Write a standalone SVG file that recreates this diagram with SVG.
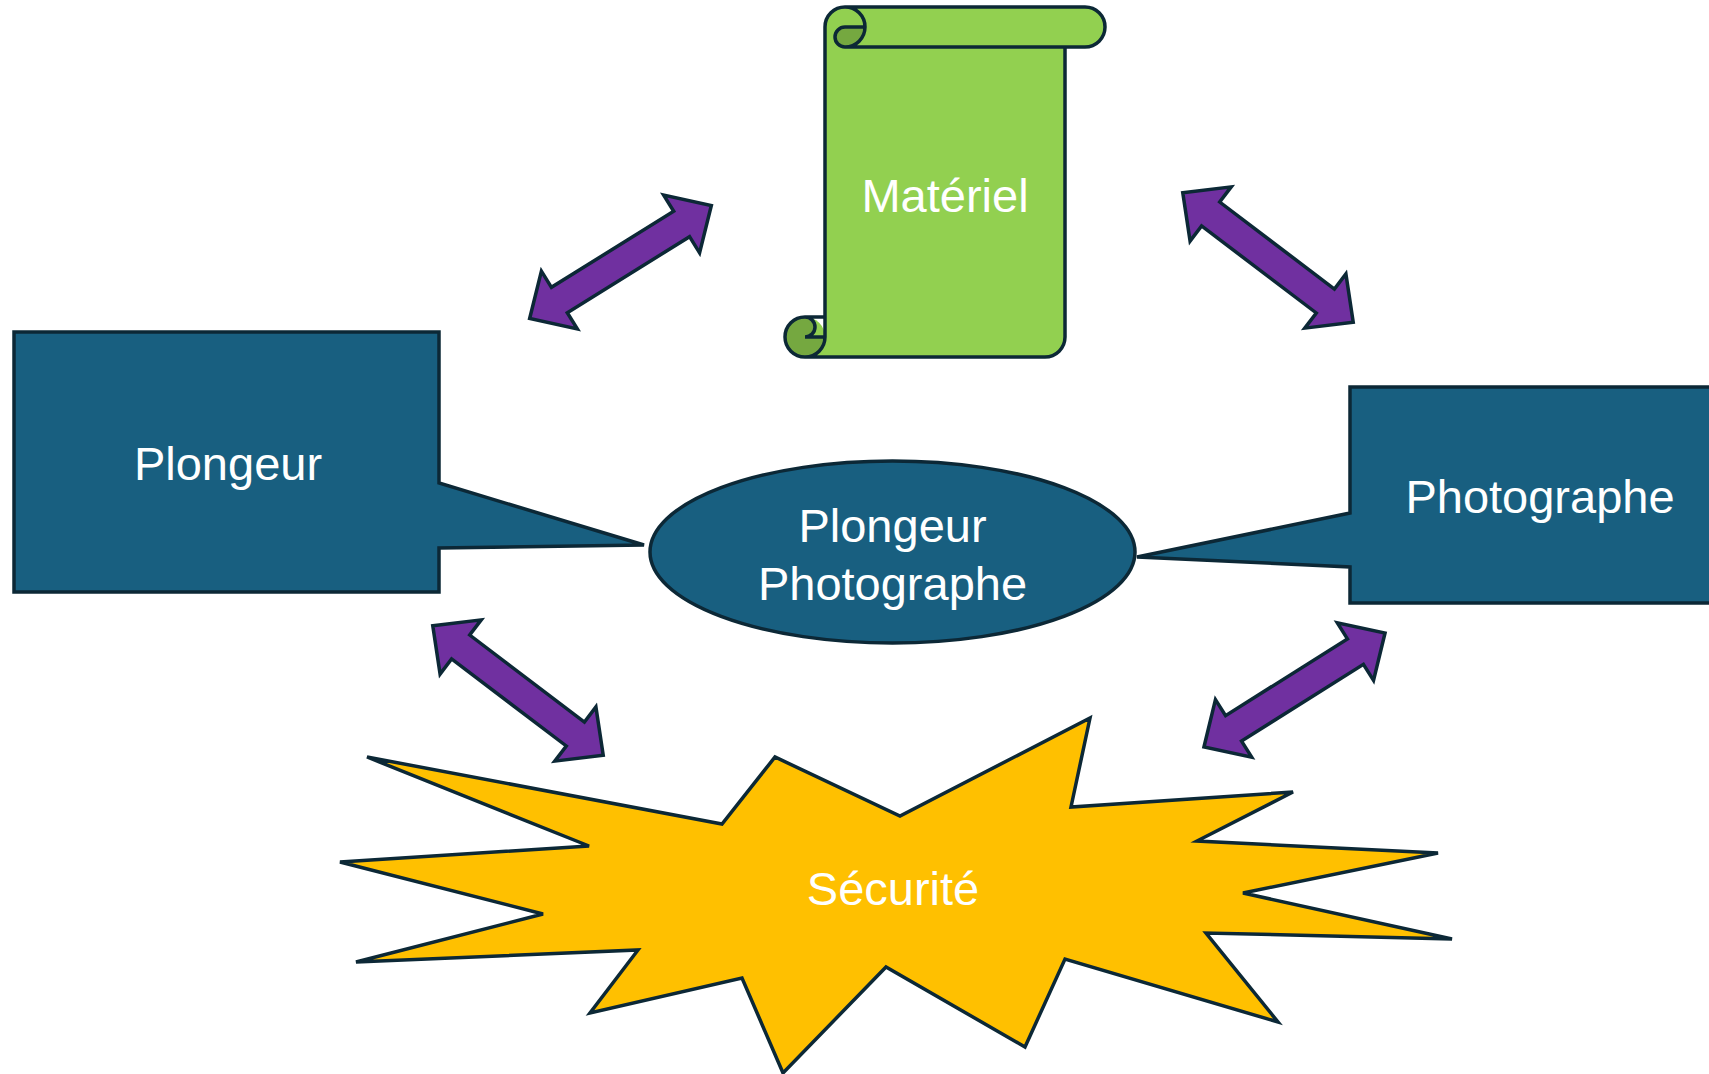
<svg xmlns="http://www.w3.org/2000/svg" xmlns:xlink="http://www.w3.org/1999/xlink" width="1709" height="1074" viewBox="0 0 1709 1074">
<style>
.ln{stroke:#0C2836;stroke-width:3.5;stroke-linejoin:miter}
.blue{fill:#185F80}
.lbl{font-family:"Liberation Sans",Arial,sans-serif;font-size:47px;fill:#FFFFFF;text-anchor:middle}
.arrow{fill:#7030A0;stroke:#0C2836;stroke-width:3.5;stroke-linejoin:miter}
</style>
<defs>
<path id="dbl" d="M-107,0 L-72,-34 L-72,-15 L72,-15 L72,-34 L107,0 L72,34 L72,15 L-72,15 L-72,34 Z"/>
</defs>
<rect width="1709" height="1074" fill="#FFFFFF"/>
<g id="connectors">
<use xlink:href="#dbl" class="arrow" transform="translate(620.5,262) rotate(-31.9)"/>
<use xlink:href="#dbl" class="arrow" transform="translate(1268,257.5) rotate(37.2)"/>
<use xlink:href="#dbl" class="arrow" transform="translate(518,690.5) rotate(37.2)"/>
<use xlink:href="#dbl" class="arrow" transform="translate(1294.5,690) rotate(-32.2)"/>
</g>
<g id="materiel">
<path d="M805,357 A20,20 0 0 0 825,337 L825,27 A20,20 0 0 1 845,7 L1085,7 A20,20 0 0 1 1085,47 L1065,47 L1065,337 A20,20 0 0 1 1045,357 Z" fill="#92D050"/>
<circle cx="805" cy="337" r="20" fill="#92D050"/>
<circle cx="845" cy="27" r="20" fill="#92D050"/>
<path d="M865,27 A20,20 0 0 1 845,47 A10,10 0 0 1 845,27 Z" fill="#75A840"/>
<path d="M825,337 A20,20 0 1 1 805,317 A10,10 0 0 1 805,337 Z" fill="#75A840"/>
<path class="ln" fill="none" d="M825,317 L825,27 A20,20 0 0 1 845,7 L1085,7 A20,20 0 0 1 1085,47 L1065,47 L1065,337 A20,20 0 0 1 1045,357 L805,357 A20,20 0 0 1 805,317 Z M845,7 A20,20 0 0 1 845,47 A10,10 0 0 1 845,27 L865,27 M1065,47 L845,47 M805,317 A10,10 0 0 1 805,337 L825,337 M805,357 A20,20 0 0 0 825,337 L825,317"/>
<text class="lbl" x="945" y="212">Matériel</text>
</g>
<g id="plongeur">
<polygon class="blue ln" points="14,332 439,332 439,483 644,545 439,548 439,592 14,592"/>
<text class="lbl" x="228" y="480">Plongeur</text>
</g>
<g id="photographe">
<polygon class="blue ln" points="1350,387 1722,387 1722,603 1350,603 1350,567 1137,557 1350,513"/>
<text class="lbl" x="1540" y="513">Photographe</text>
</g>
<g id="plongeur-photographe">
<ellipse class="blue ln" cx="892.5" cy="552" rx="242.5" ry="91"/>
<text class="lbl" x="892.5" y="542">Plongeur</text>
<text class="lbl" x="892.5" y="600">Photographe</text>
</g>
<g id="securite">
<polygon class="ln" fill="#FFC000" points="367,757 722,824 775,757 900,816 1090,718 1071,807 1293,792 1197,841 1438,853 1243,893 1452,939 1206,933 1278,1022 1065,959 1025,1047 886,967 783,1073 742,978 590,1013 638,950 356,962 543,914 340,862 589,846"/>
<text class="lbl" x="893" y="905">Sécurité</text>
</g>
</svg>
